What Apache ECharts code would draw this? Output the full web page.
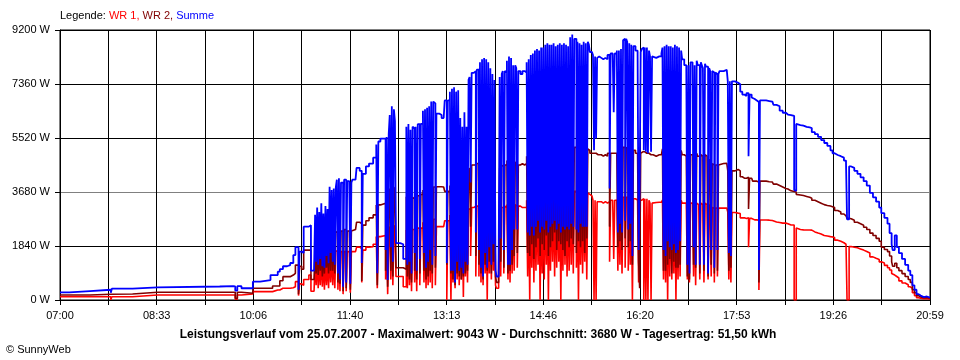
<!DOCTYPE html>
<html><head><meta charset="utf-8">
<script src="https://cdn.jsdelivr.net/npm/echarts@6/dist/echarts.min.js"></script>
<style>html,body{margin:0;padding:0;background:#fff}#c{width:960px;height:360px}</style>
</head><body><div id="c"></div>
<script>
// x tick labels (every second grid line), 07:00 .. 20:59
const tickLabels = ['07:00','08:33','10:06','11:40','13:13','14:46','16:20','17:53','19:26','20:59'];
const titleText = 'Leistungsverlauf vom 25.07.2007 - Maximalwert: 9043 W - Durchschnitt: 3680 W - Tagesertrag: 51,50 kWh';
const copyText = '\u00A9 SunnyWeb';

// sample times, minutes after 07:00
const times = [
  0,9,29,49,50,70,94,154,167,169,171,175,186,193,203,205,210,212,215,219,222,225,227,230,231,233,235,240,242,245,
  246,247,248,249,250,251,252,253,254,255,256,257,258,259,260,261,262,263,264,265,266,267,268,269,270,271,272,
  273,274,275,276,277,279,280,281,282,285,286,289,291,292,295,298,302,305,306,307,309,314,315,316,317,318,319,320,321,322,323,324,328,331,
  334,335,336,337,338,339,340,341,342,343,344,345,346,347,348,350,351,352,353,354,355,356,357,358,359,360,361,362,363,366,368,370,371,
  373,374,
  376,377,378,379,380,381,382,383,384,385,386,387,388,389,390,391,392,393,394,395,396,397,
  399,
  400,401,402,403,404,405,406,407,408,409,410,411,412,413,414,415,416,417,418,419,420,421,
  423,
  424,425,426,427,428,429,430,431,432,433,434,435,436,437,438,439,440,441,442,
  444,446,448,
  450,451,452,453,454,455,456,457,458,459,460,461,462,463,464,465,466,467,468,469,
  470,471,472,473,474,475,476,477,478,479,480,481,482,483,484,485,486,487,488,489,
  490,491,492,493,494,495,496,497,498,499,500,501,502,503,504,505,506,507,508,509,510,511,513,
  514,515,516,517,518,519,520,522,524,526,528,530,531,533,534,535,
  537,538,539,540,541,542,543,544,545,546,547,548,549,550,551,552,553,555,557,
  558,559,560,561,562,563,564,565,566,567,568,569,570,571,572,575,578,580,
  581,582,583,584,585,586,587,588,589,590,591,592,593,594,595,596,597,598,599,600,602,604,
  605,606,607,608,609,610,611,612,613,614,615,616,617,618,619,620,621,622,623,624,
  625,626,627,628,629,630,631,632,633,634,635,636,640,643,644,645,646,647,648,651,654,
  656,658,660,662,664,665,667,668,670,672,674,675,678,681,684,687,688,691,694,697,
  700,702,705,708,709,710,711,714,717,720,723,725,728,731,734,737,740,743,745,747,
  750,753,756,758,759,760,761,763,766,769,772,775,778,781,784,787,790,792,795,798,
  800,802,803,805,807,809,812,815,818,820,822,824,826,828,830,833,836,839
];

// WR 1 (W)
const wr1 = [
  113,113,113,10,113,170,170,170,170,30,170,205,285,285,285,340,340,400,400,400,420,454,625,150,550,500,700,850,300,350,
  1300,500,1450,400,1350,500,1500,450,1300,350,1450,500,1400,400,1600,600,1600,500,1650,400,1650,1700,350,1700,300,1650,1650,
  200,1650,1650,300,1650,1650,250,1650,1650,1650,1800,1750,600,1700,1800,1820,1900,2160,400,2160,2200,700,2200,200,2250,2500,700,2600,500,2550,2450,800,800,450,
  2385,400,2400,500,2350,300,2400,2400,600,2400,300,2450,2450,500,2450,2650,600,2650,400,2700,500,2700,600,2750,400,2750,2750,500,2500,2500,2500,2550,2700,
  0,2700,
  2900,0,3000,600,3050,400,2950,700,3000,500,2700,700,2600,100,2800,800,2500,600,3100,3100,1500,3150,
  3150,
  3200,800,3200,3200,800,3250,600,3300,500,3300,900,3300,0,3250,900,3200,700,3150,1000,3100,500,400,
  700,
  3100,800,3150,3150,900,3200,3150,3250,700,3300,600,3300,900,3250,1000,3250,3200,1100,3200,
  3150,3150,3150,
  3400,800,3400,0,3450,1100,3450,600,3450,1000,3500,1200,3500,0,3500,900,3550,700,3600,1200,
  3600,0,3600,1000,3600,1300,3650,800,3600,1100,3650,1300,3650,0,3600,1000,3650,1200,3650,800,
  3600,1000,3700,1200,3750,900,3700,3700,1100,3650,0,3650,1200,3600,900,3650,1300,3600,700,3650,3600,3550,3550,
  3400,0,3400,0,3350,3350,3350,3300,3350,3300,3350,1300,3400,3350,1400,3400,
  3450,1000,3450,1200,3450,900,3500,3500,1100,3500,3500,1000,3450,1200,3450,0,3450,3400,3400,
  600,3400,3400,3450,3450,0,3450,0,3450,0,3400,3300,0,3300,3320,3330,3330,3350,
  3400,700,3450,600,3450,0,3450,800,3450,700,3400,900,3450,0,3450,700,3450,800,3400,3300,3300,3250,
  700,3300,600,3300,3300,3300,800,3250,500,3300,3250,3250,700,3300,3250,3250,600,3300,3250,3250,
  700,3250,3150,800,3150,3130,600,3130,3130,800,3130,3130,3130,3130,3000,700,3000,600,2980,2960,2950,
  2800,2800,2780,2800,1800,2780,2750,2730,2730,2720,340,2725,2725,2720,2710,2700,2660,2640,2620,2620,
  2600,2555,2555,0,0,2450,2400,2390,2385,2385,2380,2320,2280,2250,2200,2180,2160,2150,2130,2040,
  2000,1950,1900,1870,0,0,1820,1800,1780,1740,1700,1650,1600,1470,1420,1380,1300,1260,1180,1100,
  1020,900,850,800,750,650,580,520,450,400,250,150,80,60,40,50,30,20
];

// WR 2 (W)
const wr2 = [
  170,170,195,205,205,262,262,262,262,60,262,228,400,400,400,477,477,658,795,795,850,910,1190,200,1150,1050,1700,1700,700,650,
  1600,900,1700,850,1650,1000,1750,800,1600,900,1800,1100,1700,900,2200,1000,2200,1000,2250,900,2300,2350,600,2400,550,2350,2350,
  300,2400,2400,400,2350,2300,350,2350,2400,2400,2650,2600,650,2550,2700,2800,2900,3240,500,3240,3300,1000,3300,450,3400,3800,1000,3900,800,3850,3700,1100,1100,1050,
  3520,800,3550,700,3500,600,3500,3450,1000,3500,700,3550,3550,900,3600,3750,1000,3750,700,3750,800,3800,1000,3850,900,3850,3850,1100,3860,3860,3850,3850,3700,
  1200,3700,
  3900,900,4000,700,4000,500,3950,900,4000,800,3500,700,3300,800,3600,900,3400,1000,4400,4500,2500,4600,
  4600,
  4600,1500,4650,4650,1200,4750,900,4800,700,4850,1200,4800,1000,4750,1300,4700,900,4500,1300,4400,800,600,
  800,
  4500,1300,4550,4600,1100,4600,4600,4750,900,4850,1000,4800,1200,4700,1500,4700,4650,1600,4600,
  4650,4600,4650,
  4900,1600,4950,1500,5000,1900,5000,1400,5000,1800,5050,2100,5050,1500,5100,1900,5100,1700,5150,2200,
  5150,1500,5150,1800,5100,2000,5150,2300,5100,1700,5150,2000,5150,1900,5100,1700,5150,1500,5150,2000,
  5100,1800,5250,2100,5300,1900,5200,5200,1600,5150,2000,5150,1800,5100,2000,5150,1600,5150,2100,5150,5100,5000,4950,
  5000,5000,5000,4950,4950,4950,4950,4900,4950,4900,5000,2500,5000,5050,5000,5000,
  5050,1800,5100,2000,5100,1700,5200,5200,2100,5200,5150,1800,5150,2000,5100,1200,5100,5000,5050,
  1300,400,5000,5050,5050,5050,5050,5000,5050,5000,5000,4950,5000,4950,4900,4950,4950,5000,
  5150,1000,5180,1000,5200,1200,5180,1400,5180,900,5150,1300,5200,1100,5180,1100,5150,1200,5100,4950,4900,4850,
  800,4950,700,4950,4950,4950,1200,4900,1100,5000,4900,4900,900,4950,4900,4900,1000,4950,4900,4900,
  800,4800,4650,1200,4650,4600,900,4600,4600,1000,4600,4650,4660,4660,4400,1000,4400,1100,4400,4450,4400,
  4200,4150,4150,4180,3100,4150,4100,4050,4050,4020,600,4050,4050,4030,4020,4000,3950,3900,3850,3800,
  3780,3720,3700,3700,3680,3600,3580,3560,3530,3500,3470,3400,3350,3300,3250,3220,3200,3180,3150,3050,
  3000,2930,2870,2820,2780,2780,2770,2720,2650,2600,2550,2480,2400,2280,2200,2100,2000,1800,1720,1650,
  1500,1300,1150,1250,1100,1000,900,800,700,600,350,250,150,100,80,90,60,40
];

// Summe (W)
const summe = [
  260,305,350,250,385,430,460,470,460,320,470,400,625,680,850,850,965,1050,1150,1190,1260,1530,1800,350,1650,1600,2500,2550,1000,1000,
  2900,1300,3150,1200,3000,1400,3300,1150,2950,1100,3200,1500,3100,1250,3860,1600,3750,1300,3800,1200,3850,4100,900,4150,700,4000,4000,
  450,4100,4100,600,4050,3950,550,4000,4100,4150,4500,4400,1260,4300,4550,4650,4850,5300,910,5400,5500,1700,5550,680,5650,6300,1800,6600,1300,6500,6100,1940,1900,1400,
  5900,1200,6000,1300,5800,900,5900,5850,1600,5900,1000,5990,5990,1400,6000,6450,1600,6500,1100,6550,1300,6600,1700,6760,1200,6760,6700,1500,6350,6300,6200,6250,6800,
  1260,6800,
  7100,1000,7200,1000,7250,600,7100,1300,7150,1000,6200,1100,5900,900,6400,1300,5900,1200,7500,7600,4000,7740,
  7740,
  7800,2300,7850,7850,1700,8100,1100,8200,800,8250,1600,8200,1100,8100,1800,7900,1200,7700,1900,7500,1000,800,
  1200,
  7600,2100,7700,7800,1700,7800,7750,8150,1200,8300,1200,8250,1700,8000,2400,8000,7900,2400,7800,
  7700,7800,7750,
  8100,2300,8200,2200,8350,2500,8400,2200,8500,2500,8550,2700,8500,2300,8600,2500,8600,2400,8700,2700,
  8750,2300,8700,2500,8700,2600,8750,2700,8650,2400,8700,2600,8750,2300,8700,2500,8750,2400,8700,2500,
  8650,2400,8950,2600,9043,2500,8900,8900,2400,8800,2300,8750,2600,8700,2500,8800,2500,8750,2500,8800,8700,8450,8400,
  8350,5100,8300,5500,8250,8300,8250,8200,8250,8200,8350,3800,8400,8400,6400,8400,
  8500,2300,8500,2600,8550,2300,8850,8900,2700,8900,8800,2400,8750,2600,8700,1500,8650,8500,8550,
  1700,3900,8450,8550,8600,5100,8600,5050,8600,5000,8500,8300,5050,8300,8250,8300,8300,8400,
  8600,1700,8650,1500,8700,2000,8650,1800,8650,1700,8600,1900,8700,1600,8650,1700,8600,2000,8500,8200,8000,7800,
  1200,8000,900,8100,8100,8100,1800,8000,1200,8150,8000,8000,1200,8100,8000,7900,1200,8050,7950,7950,
  900,7900,7800,1700,7800,7750,1100,7750,7700,1700,7700,7800,7840,7840,7450,1600,7450,1500,7450,7400,7350,
  7100,7000,6950,7050,4900,7000,6900,6850,6800,6750,1020,6800,6800,6780,6760,6720,6650,6600,6450,6380,
  6320,6300,6270,3750,3720,6000,5960,5940,5900,5880,5860,5720,5650,5560,5450,5350,5250,5100,5000,4940,
  4900,4850,4750,4680,2750,2750,4550,4500,4400,4300,4180,4050,3900,3650,3500,3350,3150,2960,2800,2600,
  2280,1900,1700,2200,1800,1600,1400,1200,1000,850,500,350,200,150,100,120,80,60
];

if (times.length !== wr1.length || times.length !== wr2.length || times.length !== summe.length) {
  throw new Error('length mismatch: ' + [times.length, wr1.length, wr2.length, summe.length].join(','));
}

const FONT = 'Arial, "Liberation Sans", sans-serif';
const xMax = 839;
const xStep = xMax / 18;

function pairs(vals) { return times.map((t, i) => [t, vals[i]]); }
function lineSeries(name, vals, color, width) {
  return {
    name, type: 'line', step: 'end', data: pairs(vals),
    symbol: 'none', showSymbol: false, silent: true, animation: false,
    lineStyle: { color, width }, itemStyle: { color }
  };
}

const chart = echarts.init(document.getElementById('c'), null, { renderer: 'canvas' });
chart.setOption({
  animation: false,
  backgroundColor: '#ffffff',
  grid: { left: 60, right: 30, top: 30, bottom: 60, show: true, borderColor: '#000', borderWidth: 1, backgroundColor: 'transparent' },
  xAxis: {
    type: 'value', min: 0, max: xMax, interval: xStep, z: 3,
    axisLine: { show: true, onZero: false, lineStyle: { color: '#000', width: 1 } },
    axisTick: { show: true, length: 5, lineStyle: { color: '#000', width: 1 } },
    axisLabel: {
      color: '#000', fontSize: 11, fontFamily: FONT, margin: 10, showMinLabel: true, showMaxLabel: true,
      formatter: v => { const k = Math.round(v / xStep); return k % 2 === 0 ? (tickLabels[k / 2] || '') : ''; }
    },
    splitLine: { show: true, lineStyle: { color: '#000', width: 1 } }
  },
  yAxis: {
    type: 'value', min: 0, max: 9200, interval: 1840, z: 3,
    axisLine: { show: true, lineStyle: { color: '#000', width: 1 } },
    axisTick: { show: true, length: 5, lineStyle: { color: '#000', width: 1 } },
    axisLabel: { color: '#000', fontSize: 11, fontFamily: FONT, margin: 10, formatter: v => v + ' W' },
    splitLine: { show: true, lineStyle: { color: ['#000', '#000', '#808080', '#000', '#000', '#000'], width: 1 } }
  },
  series: [
    lineSeries('WR 1', wr1, '#ff0000', 1.6),
    lineSeries('WR 2', wr2, '#800000', 1.6),
    lineSeries('Summe', summe, '#0000ff', 1.8)
  ],
  graphic: [
    {
      type: 'text', x: 60, y: 16,
      style: {
        text: '{k|Legende: }{a|WR 1, }{b|WR 2, }{c|Summe}',
        fontSize: 11, fontFamily: FONT, verticalAlign: 'middle', align: 'left',
        rich: {
          k: { fill: '#000', fontSize: 11, fontFamily: FONT },
          a: { fill: '#ff0000', fontSize: 11, fontFamily: FONT },
          b: { fill: '#800000', fontSize: 11, fontFamily: FONT },
          c: { fill: '#0000ff', fontSize: 11, fontFamily: FONT }
        }
      }
    },
    {
      type: 'text', x: 478, y: 335,
      style: { text: titleText, fontSize: 12, fontWeight: 'bold', fontFamily: FONT, fill: '#000', align: 'center', verticalAlign: 'middle' }
    },
    {
      type: 'text', x: 6, y: 350,
      style: { text: copyText, fontSize: 11, fontFamily: FONT, fill: '#000', align: 'left', verticalAlign: 'middle' }
    }
  ]
});
</script>
</body></html>
